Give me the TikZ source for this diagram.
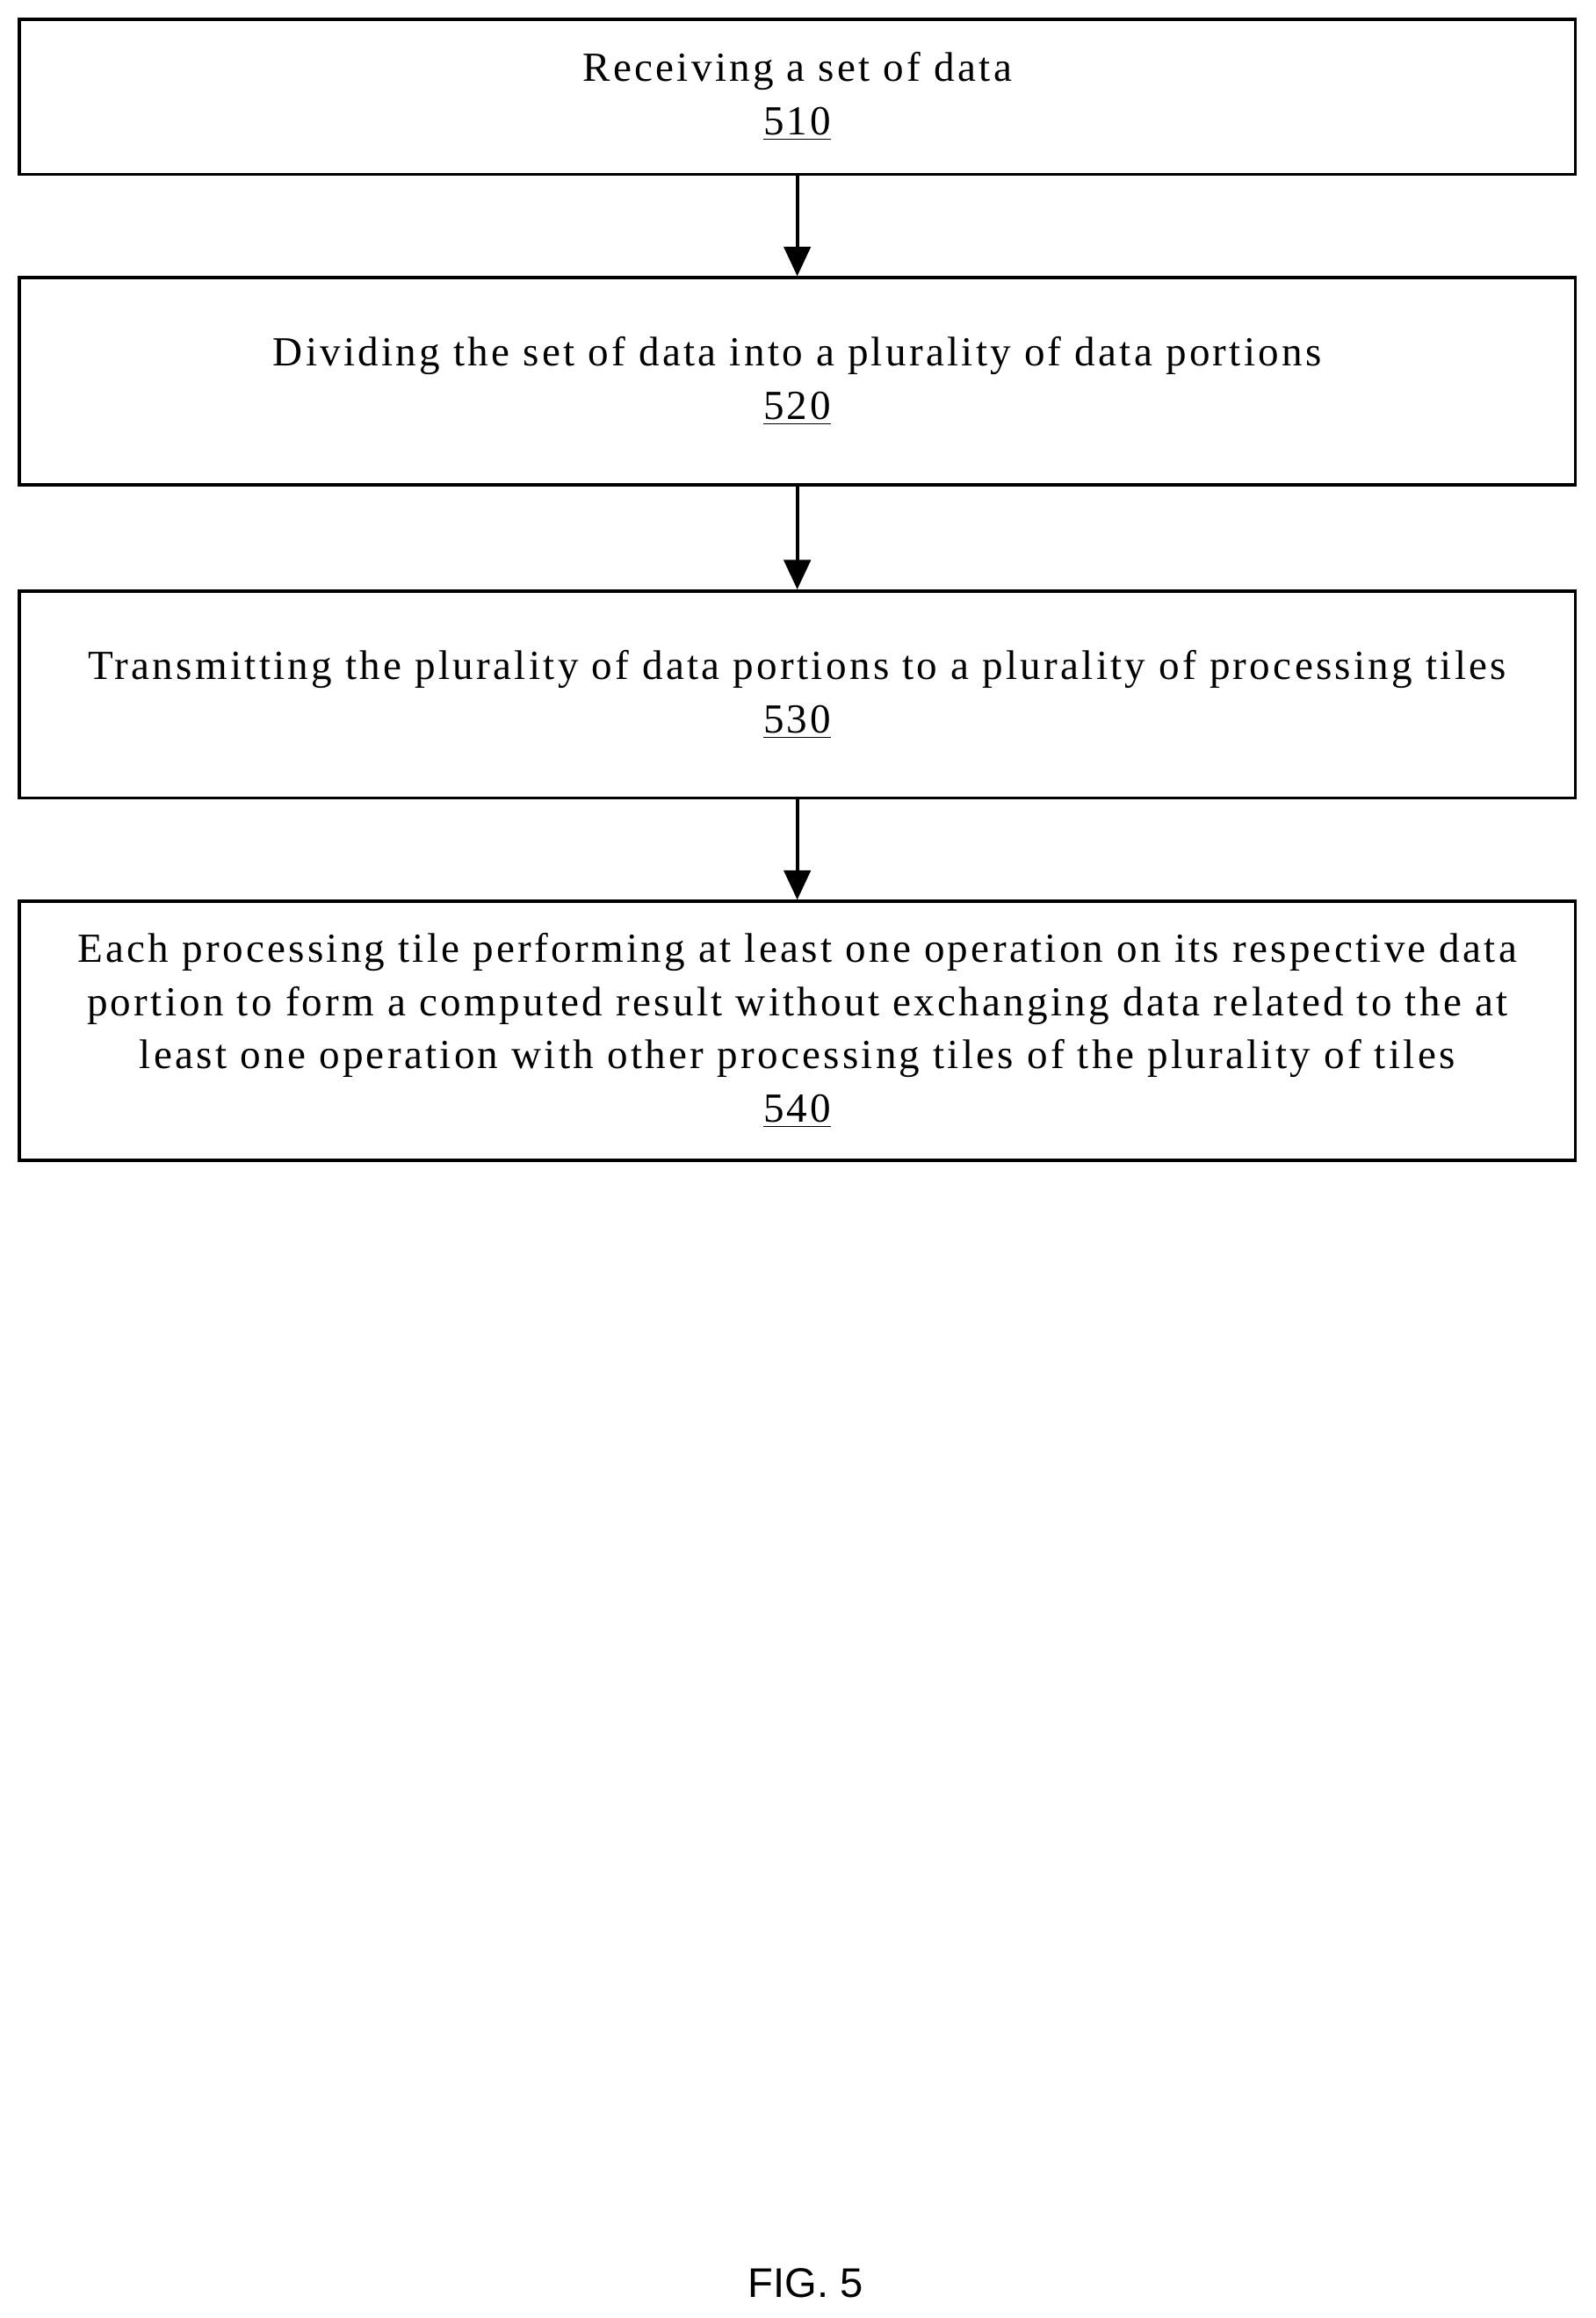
\documentclass[tikz,border=0pt]{standalone}
\usepackage{fontspec}
\setmainfont{Liberation Serif}[LetterSpace=7]
\newfontfamily\figfont{Liberation Sans}
\usetikzlibrary{arrows.meta}
\begin{document}
\begin{tikzpicture}[x=0.5pt,y=-0.5pt,
  stepbox/.style={draw,line width=1.1pt,minimum width=526.5pt,align=center,inner sep=0pt,font=\fontsize{14}{18}\selectfont},
  arr/.style={-{Triangle[length=10pt,width=9pt]},line width=1.2pt}]
\useasboundingbox (0,0) rectangle (1080,1568.6);
\node[stepbox,minimum height=52.5pt] (a) at (539.5,65.5) {Receiving a set of data\\\underline{510}};
\node[stepbox,minimum height=70pt] (b) at (539.5,258) {Dividing the set of data into a plurality of data portions\\\underline{520}};
\node[stepbox,minimum height=70pt] (c) at (539.5,470) {Transmitting the plurality of data portions to a plurality of processing tiles\\\underline{530}};
\node[stepbox,minimum height=87.5pt] (d) at (539.5,697.5) {Each processing tile performing at least one operation on its respective data\\portion to form a computed result without exchanging data related to the at\\least one operation with other processing tiles of the plurality of tiles\\\underline{540}};
\draw[arr] (a) -- (b);
\draw[arr] (b) -- (c);
\draw[arr] (c) -- (d);
\node[font=\figfont\fontsize{14}{16}\selectfont] (fig) at (545,1545) {FIG. 5};
\end{tikzpicture}
\end{document}
